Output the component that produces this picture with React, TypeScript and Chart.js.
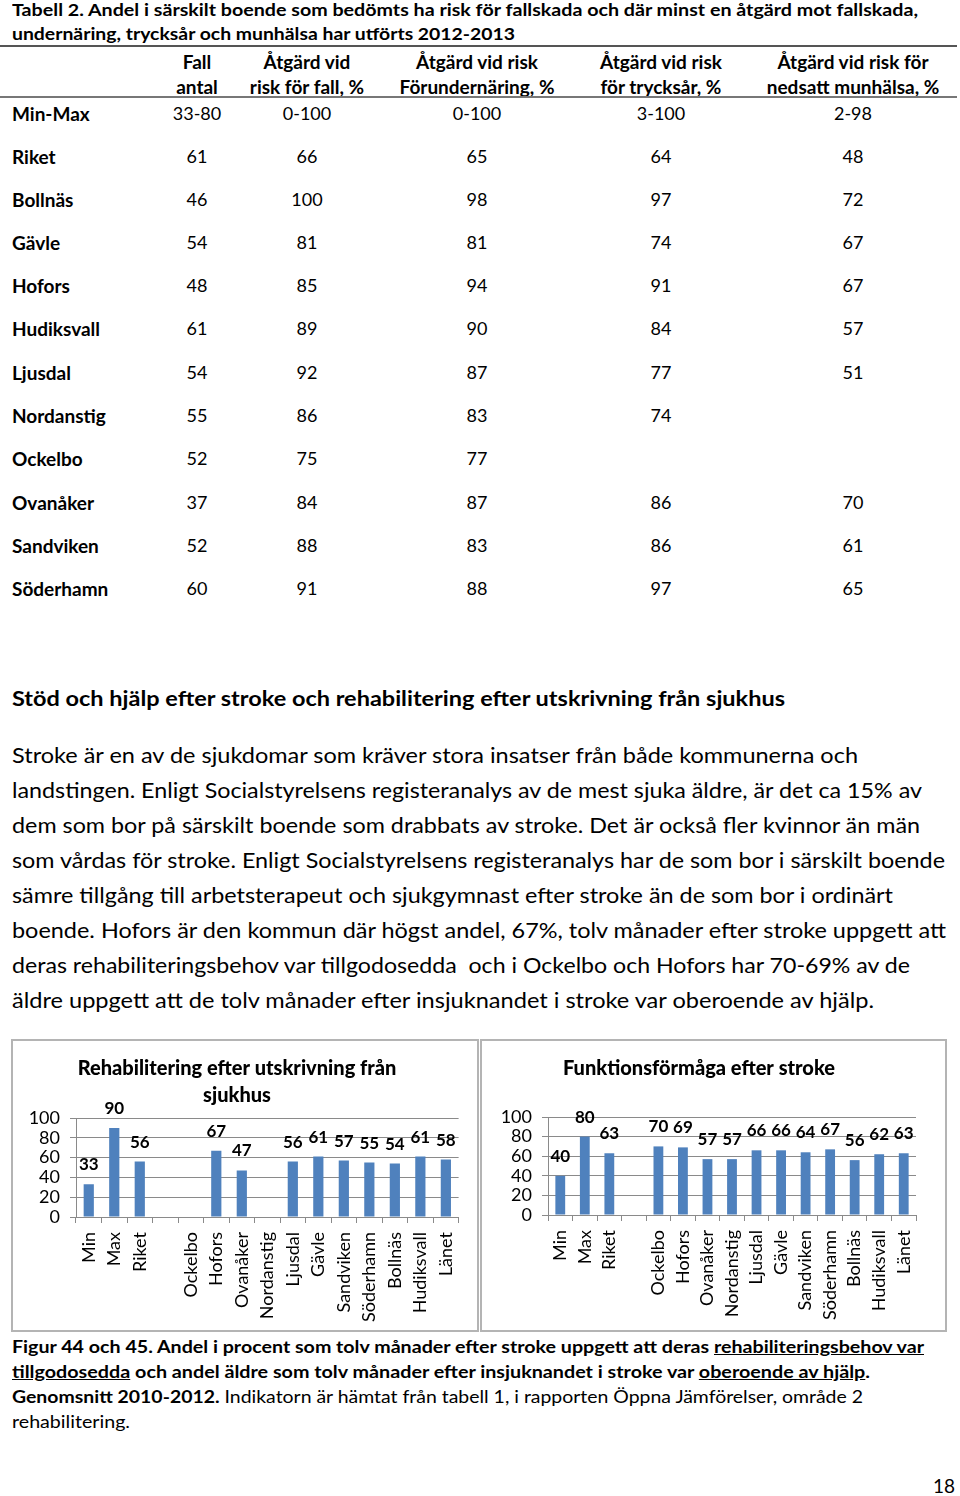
import React, { useEffect, useLayoutEffect, useRef } from "react";
import { Chart, registerables } from "chart.js";

Chart.register(...registerables);

const FONT = "Lato, 'Open Sans', sans-serif";

// ---------- Table data ----------
const tableTitle1 = "Tabell 2. Andel i särskilt boende som bedömts ha risk för fallskada och där minst en åtgärd mot fallskada,";
const tableTitle2 = "undernäring, trycksår och munhälsa har utförts 2012-2013";
const headerTop = ["Fall", "Åtgärd vid", "Åtgärd vid risk", "Åtgärd vid risk", "Åtgärd vid risk för"];
const headerBottom = ["antal", "risk för fall, %", "Förundernäring, %", "för trycksår, %", "nedsatt munhälsa, %"];
const rowLabels = ["Min-Max", "Riket", "Bollnäs", "Gävle", "Hofors", "Hudiksvall", "Ljusdal", "Nordanstig", "Ockelbo", "Ovanåker", "Sandviken", "Söderhamn"];
const fallAntal = ["33-80", "61", "46", "54", "48", "61", "54", "55", "52", "37", "52", "60"];
const atgardFall = ["0-100", "66", "100", "81", "85", "89", "92", "86", "75", "84", "88", "91"];
const atgardUndernaring = ["0-100", "65", "98", "81", "94", "90", "87", "83", "77", "87", "83", "88"];
const atgardTrycksar = ["3-100", "64", "97", "74", "91", "84", "77", "74", "", "86", "86", "97"];
const atgardMunhalsa = ["2-98", "48", "72", "67", "67", "57", "51", "", "", "70", "61", "65"];

// ---------- Chart data ----------
const strokeCategories = ["Min", "Max", "Riket", "", "Ockelbo", "Hofors", "Ovanåker", "Nordanstig", "Ljusdal", "Gävle", "Sandviken", "Söderhamn", "Bollnäs", "Hudiksvall", "Länet"];
const rehabValues = [33, 90, 56, null, null, 67, 47, null, 56, 61, 57, 55, 54, 61, 58];
const funktionValues = [40, 80, 63, null, 70, 69, 57, 57, 66, 66, 64, 67, 56, 62, 63];
const rehabTitle = ["Rehabilitering efter utskrivning från", "sjukhus"];
const funktionTitle = ["Funktionsförmåga efter stroke"];

// ---------- Text ----------
const heading = "Stöd och hjälp efter stroke och rehabilitering efter utskrivning från sjukhus";
const paragraphLines = [
  "Stroke är en av de sjukdomar som kräver stora insatser från både kommunerna och",
  "landstingen. Enligt Socialstyrelsens registeranalys av de mest sjuka äldre, är det ca 15% av",
  "dem som bor på särskilt boende som drabbats av stroke. Det är också fler kvinnor än män",
  "som vårdas för stroke. Enligt Socialstyrelsens registeranalys har de som bor i särskilt boende",
  "sämre tillgång till arbetsterapeut och sjukgymnast efter stroke än de som bor i ordinärt",
  "boende. Hofors är den kommun där högst andel, 67%, tolv månader efter stroke uppgett att",
  "deras rehabiliteringsbehov var tillgodosedda  och i Ockelbo och Hofors har 70-69% av de",
  "äldre uppgett att de tolv månader efter insjuknandet i stroke var oberoende av hjälp.",
];
const paragraphRight = [858, 922, 920, 945, 893, 946, 910, 874];

function TextLine(props: {
  x: number; cy: number; size: number; weight?: number; width?: number; lh?: number;
  children: React.ReactNode;
}) {
  const { x, cy, size, weight = 400, width, children } = props;
  const ref = useRef<HTMLSpanElement>(null);
  useLayoutEffect(() => {
    const el = ref.current;
    if (!el || !width) return;
    el.style.transform = "none";
    const w = el.getBoundingClientRect().width;
    if (w > 0) el.style.transform = `scaleX(${width / w})`;
  }, [width]);
  const lh = props.lh ?? Math.round(size * 1.4);
  return (
    <span
      ref={ref}
      style={{
        position: "absolute",
        left: x,
        top: cy - lh / 2,
        height: lh,
        lineHeight: `${lh}px`,
        fontSize: size,
        fontWeight: weight,
        fontFamily: FONT,
        whiteSpace: "pre",
        display: "inline-block",
        transformOrigin: "left center",
        color: "#000",
      }}
    >
      {children}
    </span>
  );
}

function CenterText(props: { cx: number; cy: number; size: number; weight?: number; children: React.ReactNode }) {
  const { cx, cy, size, weight = 400, children } = props;
  const lh = Math.round(size * 1.4);
  return (
    <div
      style={{
        position: "absolute",
        left: cx - 150,
        width: 300,
        top: cy - lh / 2,
        height: lh,
        lineHeight: `${lh}px`,
        textAlign: "center",
        fontSize: size,
        fontWeight: weight,
        fontFamily: FONT,
        whiteSpace: "pre",
        color: "#000",
      }}
    >
      {children}
    </div>
  );
}

const valueLabelPlugin = {
  id: "valueLabels",
  afterDatasetsDraw(chart: any) {
    const ctx = chart.ctx;
    const meta = chart.getDatasetMeta(0);
    const data = chart.data.datasets[0].data;
    ctx.save();
    ctx.font = `bold 17px ${FONT}`;
    ctx.fillStyle = "#000";
    ctx.textAlign = "center";
    ctx.textBaseline = "middle";
    meta.data.forEach((el: any, i: number) => {
      const v = data[i];
      if (v === null || v === undefined) return;
      ctx.fillText(String(v), el.x, el.y - 19.5);
    });
    ctx.restore();
  },
};

function StrokeChart(props: {
  title: string[]; values: (number | null)[]; width: number; height: number;
  plotLeft: number; rightPad: number; xHeight: number; titlePadTop: number; titlePadBottom: number;
}) {
  const ref = useRef<HTMLCanvasElement>(null);
  useEffect(() => {
    if (!ref.current) return;
    const grid = "#8a8a8a";
    const chart = new Chart(ref.current, {
      type: "bar",
      data: {
        labels: strokeCategories,
        datasets: [
          {
            data: props.values as any,
            backgroundColor: "#4F81BD",
            barPercentage: 0.4,
            categoryPercentage: 1,
          },
        ],
      },
      options: {
        responsive: false,
        animation: false,
        devicePixelRatio: 1,
        layout: { padding: { left: 0, right: props.rightPad, top: 0, bottom: 0 } },
        plugins: {
          legend: { display: false },
          tooltip: { enabled: false },
          title: {
            display: true,
            text: props.title,
            color: "#000",
            font: { family: FONT, size: 20, weight: 900 as any, lineHeight: 27 / 20 },
            padding: { top: props.titlePadTop, bottom: props.titlePadBottom },
          },
        },
        scales: {
          x: {
            grid: { display: true, drawOnChartArea: false, drawTicks: true, tickLength: 6, color: grid, offset: true },
            border: { display: true, color: grid },
            ticks: {
              color: "#000",
              font: { family: FONT, size: 18 },
              minRotation: 90,
              maxRotation: 90,
              autoSkip: false,
              padding: 9,
            },
            afterFit: (s: any) => {
              s.height = props.xHeight;
            },
          },
          y: {
            min: 0,
            max: 100,
            ticks: { stepSize: 20, autoSkip: false, color: "#000", font: { family: FONT, size: 18 }, padding: 10 },
            grid: { color: grid, tickLength: 6 },
            border: { display: true, color: grid },
            afterFit: (s: any) => {
              s.width = props.plotLeft;
            },
          },
        },
      },
      plugins: [valueLabelPlugin],
    });
    return () => chart.destroy();
  }, []);
  return <canvas ref={ref} width={props.width} height={props.height} style={{ display: "block" }} />;
}

const rowY = [113, 156, 199, 242, 285, 328, 372, 415, 458, 502, 545, 588];
const colX = [197, 307, 477, 661, 853];

export default function App() {
  const columns = [fallAntal, atgardFall, atgardUndernaring, atgardTrycksar, atgardMunhalsa];
  return (
    <div style={{ position: "absolute", left: 0, top: 0, width: 960, height: 1496, background: "#fff", overflow: "hidden" }}>
      <TextLine x={12} cy={10} size={17} weight={700} width={906} lh={20}>{tableTitle1}</TextLine>
      <TextLine x={12} cy={34} size={17} weight={700} width={503}>{tableTitle2}</TextLine>
      <div style={{ position: "absolute", left: 0, top: 45, width: 957, height: 2, background: "#555" }} />
      {headerTop.map((t, i) => (
        <CenterText key={"ht" + i} cx={colX[i]} cy={61} size={19} weight={700}>{t}</CenterText>
      ))}
      {headerBottom.map((t, i) => (
        <CenterText key={"hb" + i} cx={colX[i]} cy={86} size={19} weight={700}>{t}</CenterText>
      ))}
      <div style={{ position: "absolute", left: 0, top: 96, width: 957, height: 2, background: "#777" }} />
      {rowLabels.map((r, i) => (
        <TextLine key={"rl" + i} x={12} cy={rowY[i]} size={19} weight={700}>{r}</TextLine>
      ))}
      {columns.map((col, c) =>
        col.map((v, r) => (v ? <CenterText key={`c${c}r${r}`} cx={colX[c]} cy={rowY[r]} size={18}>{v}</CenterText> : null))
      )}

      <TextLine x={12} cy={698} size={20.5} weight={700} width={773}>{heading}</TextLine>
      {paragraphLines.map((l, i) => (
        <TextLine key={"p" + i} x={12} cy={754 + i * 35} size={21} width={paragraphRight[i] - 12}>{l}</TextLine>
      ))}

      <div style={{ position: "absolute", left: 11, top: 1039, width: 464, height: 289, border: "2px solid #b4b4b4" }}>
        <StrokeChart title={rehabTitle} values={rehabValues} width={464} height={289}
          plotLeft={63} rightPad={16} xHeight={113} titlePadTop={14.5} titlePadBottom={8.5} />
      </div>
      <div style={{ position: "absolute", left: 480, top: 1039, width: 463, height: 289, border: "2px solid #b4b4b4" }}>
        <StrokeChart title={funktionTitle} values={funktionValues} width={463} height={289}
          plotLeft={66} rightPad={29} xHeight={115} titlePadTop={14.5} titlePadBottom={34.5} />
      </div>

      <TextLine x={12} cy={1347} size={16.5} weight={700} width={912}>
        {"Figur 44 och 45. Andel i procent som tolv månader efter stroke uppgett att deras "}
        <span style={{ textDecoration: "underline" }}>rehabiliteringsbehov var</span>
      </TextLine>
      <TextLine x={12} cy={1372} size={16.5} weight={700} width={858}>
        <span style={{ textDecoration: "underline" }}>tillgodosedda</span>
        {" och andel äldre som tolv månader efter insjuknandet i stroke var "}
        <span style={{ textDecoration: "underline" }}>oberoende av hjälp</span>
        {"."}
      </TextLine>
      <TextLine x={12} cy={1397} size={16.5} width={851}>
        <span style={{ fontWeight: 700 }}>Genomsnitt 2010-2012.</span>
        {" Indikatorn är hämtat från tabell 1, i rapporten Öppna Jämförelser, område 2"}
      </TextLine>
      <TextLine x={12} cy={1422} size={16.5} width={118}>rehabilitering.</TextLine>

      <TextLine x={933} cy={1486} size={19} lh={20}>18</TextLine>
    </div>
  );
}
